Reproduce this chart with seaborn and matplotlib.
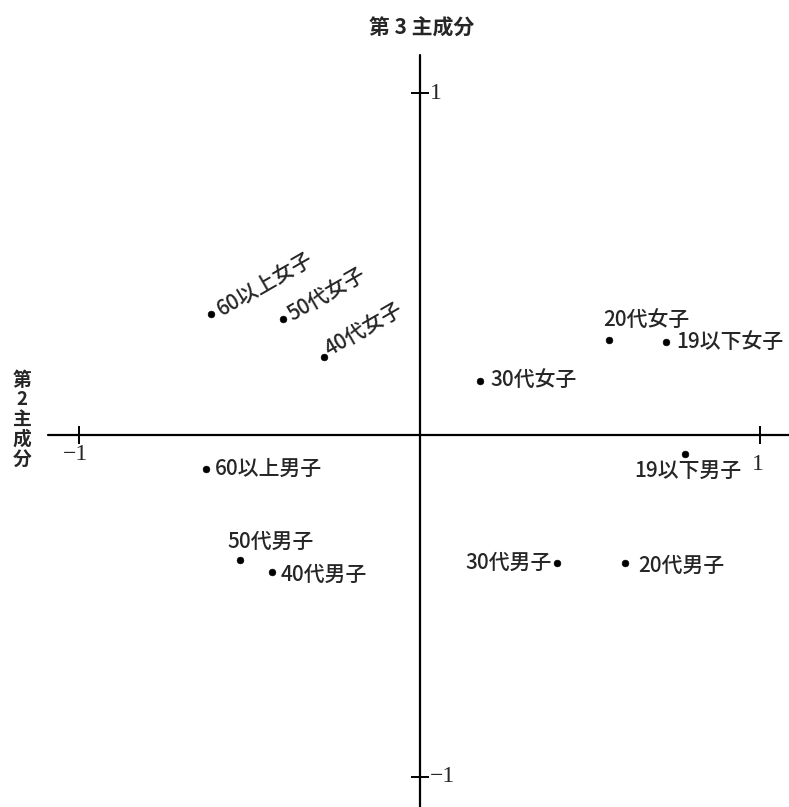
import pandas as pd
import numpy as np
import seaborn as sns
import matplotlib.pyplot as plt

# Component scores (x: 2nd component, y: 3rd component).
groups = ["60以上女子", "50代女子", "40代女子", "20代女子", "19以下女子", "30代女子",
          "60以上男子", "19以下男子", "50代男子", "40代男子", "30代男子", "20代男子"]
comp2 = [-0.611, -0.402, -0.282, 0.555, 0.725, 0.179,
         -0.626, 0.781, -0.526, -0.432, 0.405, 0.602]
comp3 = [0.354, 0.339, 0.228, 0.278, 0.272, 0.158,
         -0.099, -0.056, -0.365, -0.401, -0.374, -0.374]

df = pd.DataFrame({"group": groups, "comp2": comp2, "comp3": comp3})

# label placement: (dx, dy in points, ha, va, rotation)
label_style = {
    "60以上女子": (5, 2, "left", "center", 30),
    "50代女子": (5, 2, "left", "center", 30),
    "40代女子": (2, 4, "left", "center", 30),
    "20代女子": (-4, 14, "left", "center", 0),
    "19以下女子": (7, 0, "left", "center", 0),
    "30代女子": (7, 1, "left", "center", 0),
    "60以上男子": (6, 0, "left", "center", 0),
    "19以下男子": (-37, -12, "left", "center", 0),
    "50代男子": (-9, 13, "left", "center", 0),
    "40代男子": (6, -2, "left", "center", 0),
    "30代男子": (-4, 0, "right", "center", 0),
    "20代男子": (10, -2, "left", "center", 0),
}

sns.set_style("white")
plt.rcParams["font.family"] = ["Noto Sans CJK JP", "DejaVu Sans"]

fig = plt.figure(figsize=(7.89, 8.07), dpi=100)
ax = fig.add_axes([0, 0, 1, 1])
ax.set_xlim(-1.232, 1.085)
ax.set_ylim(-1.088, 1.272)
ax.axis("off")

# cross axes through the origin
ax.plot([-1.091, 1.085], [0, 0], color="black", lw=1.6)
ax.plot([0, 0], [-1.088, 1.111], color="black", lw=1.6)
ax.scatter([-1, 1], [0, 0], marker="|", s=180, color="black", lw=1.4)
ax.scatter([0, 0], [-1, 1], marker="_", s=180, color="black", lw=1.4)

sns.scatterplot(data=df, x="comp2", y="comp3", color="black", s=24,
                edgecolor="black", ax=ax, legend=False)

for g, x, y in zip(groups, comp2, comp3):
    dx, dy, ha, va, rot = label_style[g]
    ax.annotate(g, (x, y), xytext=(dx, dy), textcoords="offset points",
                ha=ha, va=va, rotation=rot, rotation_mode="anchor",
                fontsize=15, fontweight="medium")

fs = 17
serif = ["Liberation Serif", "DejaVu Serif"]
ax.text(-1.01, -0.025, "−1", ha="center", va="top", fontsize=fs, family=serif)
ax.text(0.995, -0.085, "1", ha="center", va="center", fontsize=fs, family=serif)
ax.text(0.03, 1.0, "1", ha="left", va="center", fontsize=fs, family=serif)
ax.text(0.03, -1.0, "−1", ha="left", va="center", fontsize=fs, family=serif)

fig.text(0.535, 0.965, "第 3 主成分", ha="center", va="center", fontsize=15,
         fontweight="bold")
fig.text(0.028, 0.48, "第\n2\n主\n成\n分", ha="center", va="center", fontsize=13.5,
         fontweight="bold", linespacing=1.05)

fig.savefig("out.png", dpi=100, facecolor="white")
